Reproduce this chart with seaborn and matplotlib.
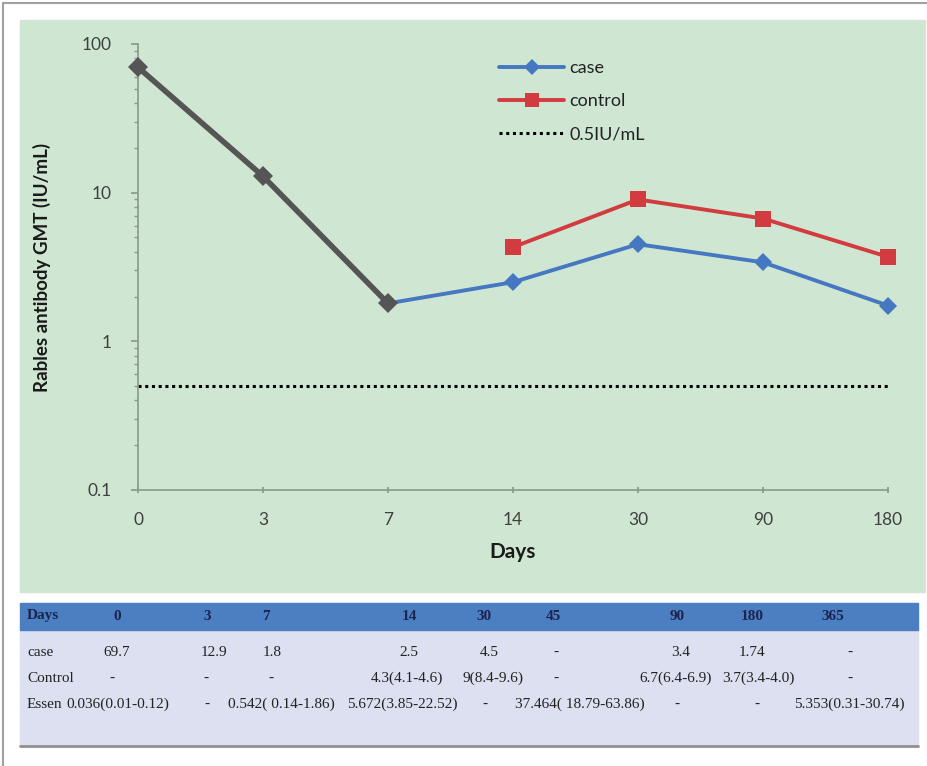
import numpy as np
import pandas as pd
import matplotlib
matplotlib.use("Agg")
import matplotlib.pyplot as plt
from matplotlib.patches import Rectangle
from matplotlib.lines import Line2D
import seaborn as sns

# chart data
days = ["0", "3", "7", "14", "30", "90", "180"]
case_gmt = [69.7, 12.9, 1.8, 2.5, 4.5, 3.4, 1.74]
control_gmt = [np.nan, np.nan, np.nan, 4.3, 9.0, 6.7, 3.7]
threshold = 0.5

# table data
table_header = ["Days", "0", "3", "7", "14", "30", "45", "90", "180", "365"]
table_case = ["case", "69.7", "12.9", "1.8", "2.5", "4.5", "-", "3.4", "1.74", "-"]
table_control = ["Control", "-", "-", "-", "4.3(4.1-4.6)", "9(8.4-9.6)", "-",
                 "6.7(6.4-6.9)", "3.7(3.4-4.0)", "-"]
table_essen = ["Essen", "0.036(0.01-0.12)", "-", "0.542( 0.14-1.86)", "5.672(3.85-22.52)",
               "-", "37.464( 18.79-63.86)", "-", "-", "5.353(0.31-30.74)"]

W, H = 927, 766


def fx(x):
    return x / W


def fy(y):
    return 1 - y / H


def main():
    sns.set_theme(style="ticks")
    plt.rcParams["font.family"] = ["Lato", "DejaVu Sans"]

    fig = plt.figure(figsize=(W / 100, H / 100), dpi=100)
    fig.patch.set_facecolor("white")

    # outer frame lines and green panel
    fig.add_artist(Line2D([fx(3), fx(3)], [fy(3), fy(766)], color="#a0a0a0", lw=1.5))
    fig.add_artist(Line2D([fx(3), fx(927)], [fy(3), fy(3)], color="#a0a0a0", lw=1.5))
    fig.add_artist(Rectangle((fx(20), fy(592)), fx(905), 572 / H,
                             transform=fig.transFigure, color="#cfe7d2", zorder=0))

    ax = fig.add_axes([fx(138), fy(490), fx(750), 446 / H])
    ax.patch.set_alpha(0)

    df = pd.DataFrame({"pos": np.arange(len(days)), "case": case_gmt, "control": control_gmt})

    ax.axhline(threshold, color="black", ls=(0, (1, 1.2)), lw=2.2, zorder=2)
    sns.lineplot(data=df, x="pos", y="case", ax=ax, color="#4678c2", lw=2.8,
                 marker="D", markersize=9, markeredgewidth=0, zorder=3, clip_on=False)
    sns.lineplot(data=df.dropna(), x="pos", y="control", ax=ax, color="#d23b3f", lw=2.8,
                 marker="s", markersize=11, markeredgewidth=0, zorder=3, clip_on=False)
    sns.lineplot(data=df.iloc[:3], x="pos", y="case", ax=ax, color="#555555", lw=4,
                 marker="D", markersize=10, markeredgewidth=0, zorder=4, clip_on=False)

    ax.set_yscale("log")
    ax.set_ylim(0.1, 100)
    ax.set_xlim(0, len(days) - 1)
    ax.set_xticks(np.arange(len(days)))
    ax.set_xticklabels(days)
    ax.set_yticks([0.1, 1, 10, 100])
    ax.set_yticklabels(["0.1", "1", "10", "100"])
    for s in ["top", "right"]:
        ax.spines[s].set_visible(False)
    for s in ["left", "bottom"]:
        ax.spines[s].set_color("#8a9a8c")
        ax.spines[s].set_linewidth(1.2)
    ax.tick_params(axis="y", which="major", length=5, color="#8a9a8c", labelsize=12.5,
                   labelcolor="#404040", pad=14)
    ax.tick_params(axis="y", which="minor", length=3, color="#8a9a8c")
    ax.tick_params(axis="x", length=4, direction="inout", color="#8a9a8c", labelsize=12.5,
                   labelcolor="#404040", pad=14)
    ax.set_xlabel("Days", fontsize=15, fontweight="bold", color="#1a1a1a", labelpad=10)
    ax.set_ylabel("Rables antibody GMT (IU/mL)", fontsize=13.5, fontweight="bold",
                  color="#1a1a1a", labelpad=22)

    handles = [
        Line2D([], [], color="#4678c2", lw=2.8, marker="D", markersize=8, markeredgewidth=0),
        Line2D([], [], color="#d23b3f", lw=2.8, marker="s", markersize=10, markeredgewidth=0),
        Line2D([], [], color="black", lw=2.2, ls=(0, (1, 1.2))),
    ]
    ax.legend(handles, ["case", "control", "0.5IU/mL"], loc="upper left",
              bbox_to_anchor=(0.46, 1.0), frameon=False, fontsize=13,
              handlelength=3.6, handletextpad=0.3, labelspacing=0.95, labelcolor="#222222")

    # table below the chart
    fig.add_artist(Rectangle((fx(20), fy(745)), fx(898), 115 / H,
                             transform=fig.transFigure, color="#dde0f0", zorder=0))
    fig.add_artist(Rectangle((fx(20), fy(630)), fx(898), 27 / H,
                             transform=fig.transFigure, color="#4b7fc1", zorder=0))
    fig.add_artist(Line2D([fx(20), fx(918)], [fy(746), fy(746)], color="#909090", lw=2))

    header_x = [27, 117, 207, 266, 409, 484, 553, 677, 752, 833]
    case_x = [27, 117, 214, 272, 409, 489, 556, 681, 752, 850]
    control_x = [27, 112, 206, 271, 407, 493, 556, 676, 758, 850]
    essen_x = [27, 118, 207, 281, 402, 485, 580, 677, 757, 849]
    rows = [
        (table_header, header_x, 616, "#1c2450", "bold", 11),
        (table_case, case_x, 652, "#222222", "normal", 11),
        (table_control, control_x, 678, "#222222", "normal", 11),
        (table_essen, essen_x, 704, "#222222", "normal", 11),
    ]
    for labels, xs, y, col, weight, size in rows:
        for i, (lab, x) in enumerate(zip(labels, xs)):
            fig.text(fx(x), fy(y), lab, ha="left" if i == 0 else "center", va="center",
                     fontsize=size, family="Liberation Serif", color=col, fontweight=weight)

    fig.savefig("out.png", dpi=100)


if __name__ == "__main__":
    main()
